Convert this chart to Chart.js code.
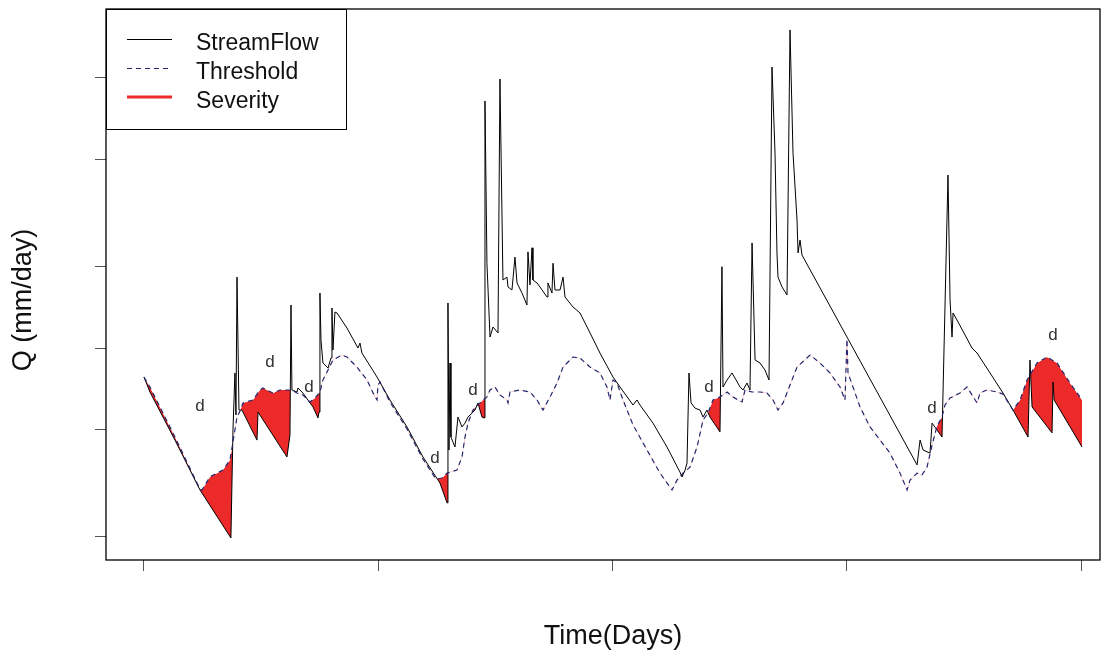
<!DOCTYPE html>
<html>
<head>
<meta charset="utf-8">
<script src="https://cdn.jsdelivr.net/npm/chart.js@4.4.0/dist/chart.umd.min.js"></script>
<style>html,body{margin:0;padding:0;background:#fff}</style>
</head>
<body>
<canvas id="c" width="1111" height="656"></canvas>
<script>
// streamflow (day, Q in mm/day)
var flowDays = [0,6.4,33.1,59.8,92.8,95.0,97.1,98.2,99.3,101.4,
  104.6,120.6,121.7,152.6,155.8,156.9,157.9,163.3,164.3,169.7,
  177.2,180.4,185.7,186.8,187.8,188.9,191.0,196.4,199.6,200.6,
  201.7,203.8,206.0,216.6,228.4,230.5,232.6,248.7,262.5,280.7,
  297.7,315.9,323.4,324.4,325.5,326.6,327.6,331.9,335.1,339.4,
  342.6,345.8,350.0,353.2,356.4,360.7,362.9,363.9,366.0,369.3,
  372.5,377.8,379.9,383.1,387.4,388.5,392.7,395.9,398.1,403.4,
  408.7,409.8,411.9,414.1,415.1,419.4,422.6,430.1,431.1,435.4,
  436.5,438.6,444.0,447.2,449.3,457.8,465.3,476.0,486.6,500.5,
  508.0,521.9,526.1,529.3,543.2,558.1,572.0,574.2,577.4,579.5,
  581.6,583.8,588.0,593.4,596.6,600.8,604.0,614.7,616.8,617.9,
  622.2,627.5,630.7,636.1,639.3,643.5,646.7,648.9,652.1,657.4,
  662.7,667.0,670.2,673.4,675.5,676.6,680.9,686.2,689.4,692.6,
  696.9,698.0,700.1,702.2,750.2,825.0,828.2,831.4,838.8,841.0,
  846.3,851.6,858.0,860.2,862.3,863.4,867.6,883.6,889.0,902.9,
  916.7,927.4,943.4,945.5,947.7,969.0,970.1,971.2,1001.0];
var flowQ = [0.781,0.687,0.456,0.298,0.198,0.497,0.808,0.565,1.83,0.589,
  0.589,0.456,0.579,0.395,0.476,1.443,0.699,0.687,0.711,0.681,
  0.626,0.605,0.551,0.579,1.598,1.071,0.880,0.843,0.918,1.406,
  0.983,1.359,1.348,1.186,1.000,1.043,0.958,0.781,0.642,0.510,
  0.395,0.316,0.267,1.468,0.419,0.880,0.468,0.430,0.555,0.510,
  0.527,0.555,0.574,0.589,0.626,0.555,0.551,8.22,2.06,1.098,
  1.196,1.137,9.91,1.786,1.83,1.683,1.640,2.17,1.741,1.598,
  1.443,2.27,1.712,2.35,1.786,1.741,1.683,1.545,1.741,1.598,
  2.06,1.640,1.640,1.83,1.545,1.419,1.348,1.137,0.958,0.781,
  0.717,0.615,0.642,0.615,0.527,0.430,0.347,0.333,0.353,0.375,
  0.808,0.626,0.599,0.589,0.555,0.589,0.555,0.489,2.00,0.717,
  0.761,0.808,0.774,0.717,0.699,0.742,0.699,2.45,0.903,0.880,
  0.829,0.761,10.98,5.28,2.25,1.83,1.683,1.572,15.06,5.28,
  2.98,2.25,2.51,2.21,1.098,0.369,0.456,0.419,0.408,0.527,
  0.497,0.468,4.37,1.506,1.098,1.348,1.270,1.000,0.958,0.808,
  0.681,0.589,0.468,0.903,0.605,0.485,0.748,0.642,0.430];

// threshold level
var thrDays = [0,6.4,33.1,59.8,61.9,70.4,77.9,84.3,91.8,97.1,
  99.3,102.5,105.7,116.3,123.8,127.0,137.7,145.1,157.9,163.3,
  169.7,177.2,182.5,187.8,191.0,196.4,201.7,211.3,216.6,227.3,
  238.0,246.5,248.7,249.7,251.9,262.5,280.7,297.7,311.6,318.0,
  323.4,326.6,334.0,339.4,342.6,345.8,351.1,358.6,361.8,366.0,
  369.3,374.6,379.9,387.4,388.5,390.6,401.3,411.9,419.4,425.8,
  433.3,440.8,447.2,457.8,465.3,476.0,486.6,494.1,497.3,500.5,
  504.8,511.2,521.9,536.8,550.7,563.5,568.8,575.2,582.7,590.2,
  596.6,601.9,607.2,614.7,622.2,628.6,633.9,638.2,641.4,648.9,
  657.4,664.9,671.3,676.6,682.0,689.4,696.9,710.8,721.4,732.1,
  742.8,748.1,750.2,751.3,756.6,764.1,774.8,785.5,796.1,806.8,
  814.3,817.5,825.0,830.3,835.6,841.0,846.3,851.6,854.8,860.2,
  870.8,878.3,889.0,892.2,899.6,910.3,916.7,927.4,934.9,942.3,
  953.0,963.7,974.4,988.2,1001.0];
var thrQ = [0.781,0.717,0.468,0.300,0.298,0.333,0.344,0.353,0.385,0.497,
  0.555,0.584,0.626,0.642,0.699,0.711,0.681,0.699,0.699,0.681,
  0.670,0.631,0.653,0.687,0.761,0.829,0.903,0.942,0.926,0.850,
  0.761,0.659,0.642,0.729,0.748,0.631,0.501,0.388,0.327,0.330,
  0.344,0.347,0.353,0.395,0.468,0.527,0.589,0.626,0.642,0.659,
  0.699,0.717,0.670,0.642,0.626,0.687,0.699,0.687,0.642,0.589,
  0.659,0.742,0.850,0.926,0.918,0.850,0.808,0.717,0.642,0.761,
  0.742,0.642,0.519,0.419,0.344,0.298,0.324,0.344,0.362,0.430,
  0.541,0.574,0.642,0.659,0.687,0.659,0.642,0.631,0.699,0.687,
  0.687,0.681,0.642,0.589,0.626,0.729,0.850,0.942,0.880,0.808,
  0.717,0.642,1.080,0.808,0.717,0.605,0.510,0.456,0.408,0.344,
  0.298,0.324,0.344,0.339,0.362,0.437,0.514,0.555,0.615,0.653,
  0.681,0.717,0.626,0.681,0.699,0.687,0.675,0.589,0.642,0.761,
  0.880,0.926,0.880,0.742,0.642];

// "d" marks over the drought events
var dropDays = [59.8,134.5,176.1,310.6,351.1,603.0,841.0,970.1];
var dropQ = [0.610,0.887,0.717,0.391,0.699,0.717,0.599,1.117];

var dayTicks = [0,250,500,750,1000];
var qTicks = [0.2,0.5,1,2,5,10];

var FONT = '"Liberation Sans", Arial, sans-serif';
var RED = '#ec2a2a';
var NAVY = '#25256f';

function pairs(xs, ys){
  return xs.map(function(x, i){ return {x: x, y: ys[i]}; });
}

var extras = {
  id: 'extras',
  afterDraw: function(chart){
    var ctx = chart.ctx, a = chart.chartArea;
    var xs = chart.scales.x, ys = chart.scales.y;
    ctx.save();

    ctx.fillStyle = '#333';
    ctx.font = '17px ' + FONT;
    ctx.textAlign = 'center';
    ctx.textBaseline = 'middle';
    dropDays.forEach(function(d, i){
      ctx.fillText('d', xs.getPixelForValue(d), ys.getPixelForValue(dropQ[i]));
    });

    // legend box
    var lx = a.left, ly = a.top;
    ctx.fillStyle = '#fff';
    ctx.fillRect(lx, ly, 240, 120);
    ctx.strokeStyle = '#000';
    ctx.lineWidth = 1;
    ctx.strokeRect(lx + 0.5, ly + 0.5, 240, 120);

    ctx.lineWidth = 1;
    ctx.strokeStyle = '#000';
    ctx.beginPath(); ctx.moveTo(127, 39.5); ctx.lineTo(172, 39.5); ctx.stroke();
    ctx.strokeStyle = NAVY;
    ctx.lineWidth = 1.2;
    ctx.setLineDash([5, 4]);
    ctx.beginPath(); ctx.moveTo(127, 68.5); ctx.lineTo(172, 68.5); ctx.stroke();
    ctx.setLineDash([]);
    ctx.strokeStyle = RED;
    ctx.lineWidth = 3;
    ctx.beginPath(); ctx.moveTo(127, 97); ctx.lineTo(172, 97); ctx.stroke();

    ctx.fillStyle = '#111';
    ctx.font = '23px ' + FONT;
    ctx.textAlign = 'left';
    ctx.textBaseline = 'alphabetic';
    ctx.fillText('StreamFlow', 196, 50);
    ctx.fillText('Threshold', 196, 79);
    ctx.fillText('Severity', 196, 108);

    // plot frame
    ctx.strokeStyle = '#000';
    ctx.lineWidth = 1.3;
    ctx.strokeRect(a.left, a.top, a.right - a.left, a.bottom - a.top);

    // axis titles
    ctx.fillStyle = '#111';
    ctx.font = '27px ' + FONT;
    ctx.textAlign = 'center';
    ctx.textBaseline = 'middle';
    ctx.fillText('Time(Days)', 613, 637);
    ctx.translate(24, 300);
    ctx.rotate(-Math.PI / 2);
    ctx.fillText('Q (mm/day)', 0, 0);
    ctx.restore();
  }
};

new Chart(document.getElementById('c'), {
  type: 'line',
  data: {
    datasets: [{
      label: 'Threshold',
      data: pairs(thrDays, thrQ),
      borderColor: NAVY,
      borderWidth: 1.2,
      borderDash: [5, 4],
      pointRadius: 0,
      fill: false
    }, {
      label: 'StreamFlow',
      data: pairs(flowDays, flowQ),
      borderColor: '#000',
      borderWidth: 1,
      pointRadius: 0,
      fill: {target: 0, above: 'rgba(0,0,0,0)', below: RED}
    }]
  },
  options: {
    responsive: false,
    animation: false,
    devicePixelRatio: 1,
    layout: {padding: {top: 9, right: 11, left: 0, bottom: 0}},
    elements: {line: {tension: 0}},
    plugins: {legend: {display: false}, tooltip: {enabled: false}},
    scales: {
      x: {
        type: 'linear', min: -40.5, max: 1020.2,
        afterBuildTicks: function(s){ s.ticks = dayTicks.map(function(v){ return {value: v}; }); },
        afterFit: function(s){ s.height = 96; },
        ticks: {display: false},
        grid: {drawOnChartArea: false, drawTicks: true, tickLength: 11, color: '#555', lineWidth: 1},
        border: {display: false}
      },
      y: {
        type: 'logarithmic', min: 0.164, max: 18.01,
        afterBuildTicks: function(s){ s.ticks = qTicks.map(function(v){ return {value: v}; }); },
        afterFit: function(s){ s.width = 106; },
        ticks: {display: false},
        grid: {drawOnChartArea: false, drawTicks: true, tickLength: 11, color: '#555', lineWidth: 1},
        border: {display: false}
      }
    }
  },
  plugins: [extras]
});
</script>
</body>
</html>
